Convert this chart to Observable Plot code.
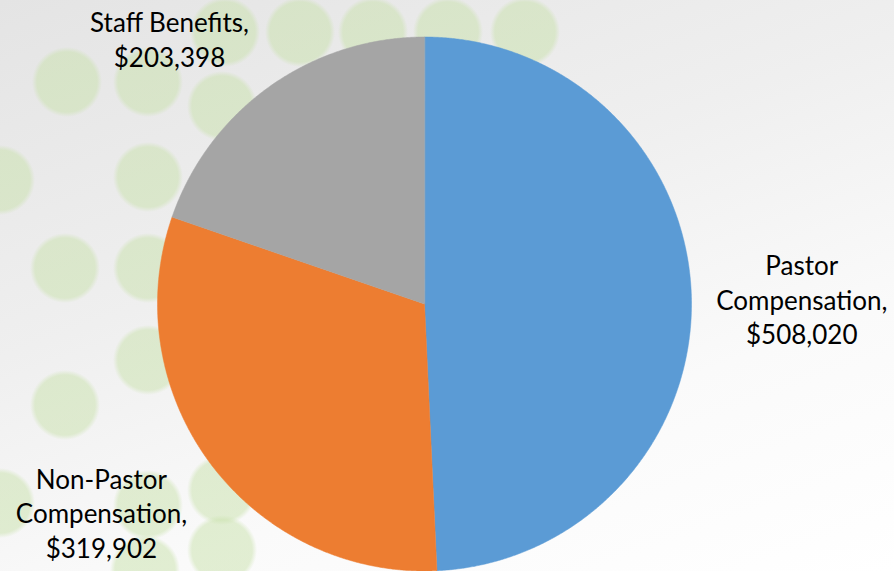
<!DOCTYPE html>
<html>
<head>
<meta charset="utf-8">
<script src="https://cdn.jsdelivr.net/npm/d3@7"></script>
<script src="https://cdn.jsdelivr.net/npm/@observablehq/plot@0.6"></script>
<style>
  html, body { margin: 0; padding: 0; }
  #chart {
    width: 894px; height: 571px; position: relative; overflow: hidden;
    background: linear-gradient(160deg, #e4e4e4 0%, #efefef 40%, #fafafa 70%, #ffffff 100%);
  }
  #dots { position: absolute; left: 0; top: 0; width: 894px; height: 571px; }
  #plot { position: absolute; left: 0; top: 0; }
</style>
</head>
<body>
<div id="chart"><div id="dots"></div><div id="plot"></div></div>
<script>
// ---- data ----
const categories = ["Pastor Compensation", "Non-Pastor Compensation", "Staff Benefits"];
const values = [508020, 319902, 203398];
const labels = ["Pastor\nCompensation,\n$508,020", "Non-Pastor\nCompensation,\n$319,902", "Staff Benefits,\n$203,398"];
const colors = ["#5B9BD5", "#ED7D31", "#A5A5A5"];

// ---- layout (pixels) ----
const W = 894, H = 571, CX = 424, CY = 303.5, R = 267;
// label anchors, in pie-radius units relative to centre
const labelPos = [[1.413, 0.02], [-1.21, -0.78], [-0.955, 0.995]];

// decorative background dots (pixel positions)
const bgDots = [[225,32],[300,32],[373,32],[448,32],[525,32],[67,82],[148,82],[222,106],
  [0,180],[148,177],[65,268],[148,268],[148,360],[65,405],[222,490],[0,503],[148,505],[222,550],[145,570]];
document.getElementById("dots").style.background = bgDots.map(([x,y]) =>
  `radial-gradient(circle at ${x}px ${y}px, rgba(200,225,170,0.5) 0px, rgba(200,225,170,0.5) 30px, rgba(200,225,170,0) 35px)`).join(",");

// ---- pie geometry ----
const arcs = d3.pie().sort(null).value(d => d)(values);
const pts = [];
arcs.forEach((a, i) => {
  pts.push({cat: categories[i], u: 0, v: 0});
  const n = Math.max(2, Math.ceil((a.endAngle - a.startAngle) / 0.005));
  for (let k = 0; k <= n; k++) {
    const t = a.startAngle + (a.endAngle - a.startAngle) * k / n;
    pts.push({cat: categories[i], u: Math.sin(t), v: Math.cos(t)});
  }
});
const labelData = categories.map((c, i) => ({cat: c, text: labels[i], u: labelPos[i][0], v: labelPos[i][1]}));

const chart = Plot.plot({
  width: W, height: H,
  marginTop: 0, marginBottom: 0, marginLeft: 0, marginRight: 0,
  x: {domain: [-CX / R, (W - CX) / R], range: [0, W], axis: null},
  y: {domain: [-(H - CY) / R, CY / R], range: [H, 0], axis: null},
  color: {domain: categories, range: colors},
  style: {background: "none", overflow: "visible"},
  marks: [
    Plot.line(pts, {x: "u", y: "v", z: "cat", fill: "cat", stroke: "cat", strokeWidth: 0.5, curve: "linear-closed"}),
    Plot.text(labelData, {x: "u", y: "v", text: "text", textAnchor: "middle", lineAnchor: "middle",
      lineHeight: 1.33, fontSize: 26, fill: "#000", fontFamily: "Lato, 'Open Sans', sans-serif"})
  ]
});
document.getElementById("plot").appendChild(chart);
</script>
</body>
</html>
